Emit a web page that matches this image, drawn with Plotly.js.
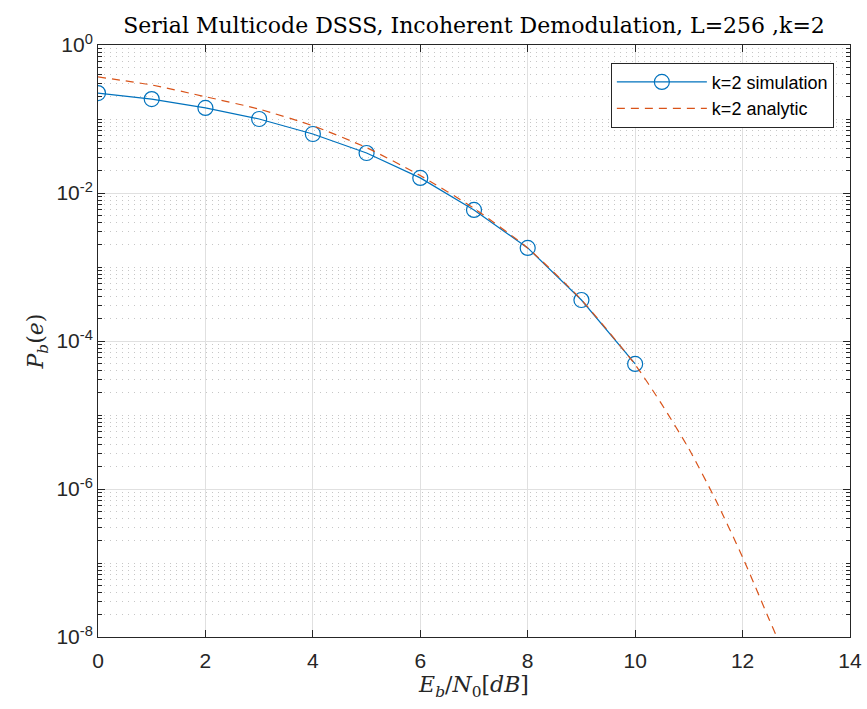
<!DOCTYPE html>
<html><head><meta charset="utf-8">
<script src="https://cdn.plot.ly/plotly-3.0.1.min.js"></script>
<style>html,body{margin:0;padding:0;background:#fff}</style>
</head><body><div id="chart" style="width:867px;height:709px"></div>
<script>
// Simulation points (Eb/N0 in dB, BER)
const simX = [0, 1, 2, 3, 4, 5, 6, 7, 8, 9, 10];
const simY = [0.224, 0.186, 0.141, 0.100, 0.0627, 0.0347, 0.0160, 0.0059, 0.00181, 3.58e-4, 4.9e-5];
// Analytic curve
const anaX = [0, 1, 2, 3, 4, 5, 6, 7, 8, 9, 10, 10.5, 11, 11.5, 12, 12.5, 13];
const anaY = [0.37, 0.288, 0.20, 0.136, 0.081, 0.041, 0.0172, 0.0062, 0.0018, 3.6e-4, 4.8e-5, 1.38e-5, 3.5e-6, 7.1e-7, 1.2e-7, 1.7e-8, 2.5e-9];
const yTickVals = [1e-8, 1e-6, 1e-4, 1e-2, 1];
const yTickText = ['10<sup>-8</sup>', '10<sup>-6</sup>', '10<sup>-4</sup>', '10<sup>-2</sup>', '10<sup>0</sup>'];
const xTickVals = [0, 2, 4, 6, 8, 10, 12, 14];

const minorVals = [];
for (let e = -8; e < 0; e++) for (let m = 2; m <= 9; m++) minorVals.push(m * Math.pow(10, e));
const oddDecades = [1e-7, 1e-5, 1e-3, 1e-1];

const serif = 'DejaVu Serif, Liberation Serif, serif';
const traces = [
  {x: simX, y: simY, name: 'k=2 simulation', mode: 'lines+markers', type: 'scatter',
   line: {color: '#0072BD', width: 1.2},
   marker: {symbol: 'circle-open', size: 15, color: '#0072BD', line: {width: 1.2}}},
  {x: anaX, y: anaY, name: 'k=2 analytic', mode: 'lines', type: 'scatter', line: {color: '#D95319', width: 1.2, dash: '8px,6px', shape: 'spline', smoothing: 0.6}}
];

const layout = {
  width: 867, height: 709,
  margin: {l: 98, r: 17, t: 45, b: 72},
  paper_bgcolor: '#fff', plot_bgcolor: '#fff',
  font: {family: 'Liberation Sans, Arial, sans-serif', size: 19, color: '#262626'},
  title: {text: 'Serial Multicode DSSS, Incoherent Demodulation, L=256 ,k=2',
          font: {family: serif, size: 22, color: '#000'},
          xref: 'paper', x: 0.5, xanchor: 'center', y: 0.975, yanchor: 'top'},
  xaxis: {range: [0, 14], tickvals: xTickVals, ticktext: xTickVals.map(String),
          ticks: 'inside', ticklen: 7, tickcolor: '#262626', mirror: 'ticks',
          showline: true, linecolor: '#262626', linewidth: 1,
          showgrid: true, gridcolor: '#e0e0e0', gridwidth: 1, zeroline: false,
          tickfont: {size: 21}, ticklabelstandoff: 5,
          title: {text: '<i>E<sub>b</sub></i>/<i>N</i><sub>0</sub>[<i>dB</i>]',
                  font: {family: serif, size: 22, color: '#262626'}, standoff: 0}},
  yaxis: {type: 'log', range: [-8, 0], tickvals: yTickVals, ticktext: yTickText,
          ticks: 'inside', ticklen: 7, tickcolor: '#262626', mirror: 'ticks',
          showline: true, linecolor: '#262626', linewidth: 1,
          showgrid: true, gridcolor: '#e0e0e0', gridwidth: 1, zeroline: false,
          tickfont: {size: 21},
          minor: {tickmode: 'array', tickvals: minorVals.concat(oddDecades), ticks: 'inside', ticklen: 4, tickcolor: '#262626',
                  showgrid: true, gridcolor: '#c6c6c6', griddash: '1px,5px', gridwidth: 1},
          title: {text: '<i>P<sub>b</sub></i>(<i>e</i>)',
                  font: {family: serif, size: 22, color: '#262626'}, standoff: 6}},
  legend: {x: 0.682, y: 0.97, xanchor: 'left', yanchor: 'top',
           bgcolor: '#fff', bordercolor: '#262626', borderwidth: 1,
           font: {size: 18, color: '#000'}, itemwidth: 90, tracegroupgap: 2},
  showlegend: true
};
Plotly.newPlot('chart', traces, layout, {displayModeBar: false, staticPlot: true});
</script></body></html>
